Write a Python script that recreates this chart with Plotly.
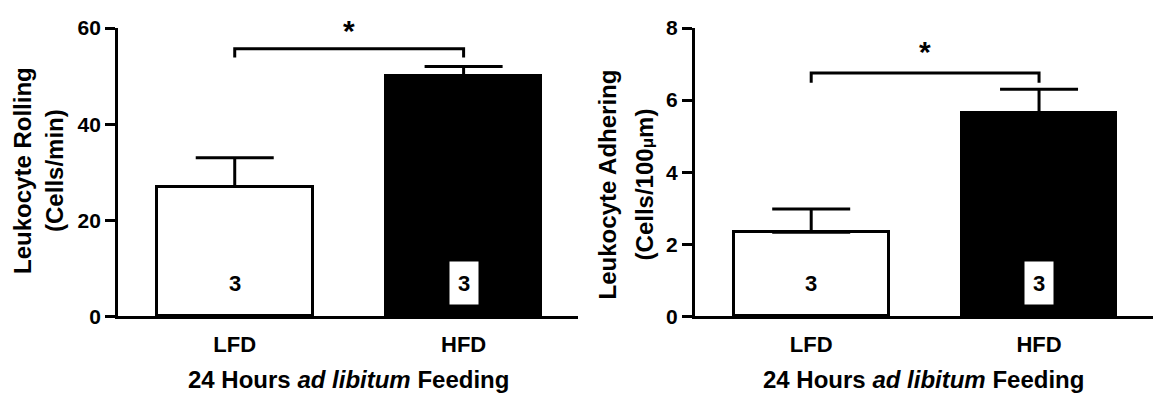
import plotly.graph_objects as go

# Diet groups and summary statistics (mean ± SEM, n per group)
groups = ["LFD", "HFD"]
n_per_group = [3, 3]

rolling_mean = [27, 50]
rolling_sem = [6, 2]

adhering_mean = [2.33, 5.65]
adhering_sem = [0.65, 0.65]

rolling_ticks = [0, 20, 40, 60]
adhering_ticks = [0, 2, 4, 6, 8]

# height of the significance bracket over each panel
bracket_level = [55.7, 6.75]
bracket_drop = [1.8, 0.27]
star_level = [59.4, 7.35]

x_title = "24 Hours <i>ad libitum</i> Feeding"
font_family = "Liberation Sans, Arial, Helvetica, sans-serif"

positions = list(range(len(groups)))
fill_colors = ["white", "black"]

fig = go.Figure()

panels = [
    ("x", "y", rolling_mean, rolling_sem),
    ("x2", "y2", adhering_mean, adhering_sem),
]
for xa, ya, means, sems in panels:
    fig.add_trace(go.Bar(
        x=positions, y=means, xaxis=xa, yaxis=ya, width=0.68,
        marker=dict(color=fill_colors, line=dict(color="black", width=3)),
        error_y=dict(type="data", symmetric=False, array=sems,
                     arrayminus=[0] * len(sems), color="black",
                     thickness=3, width=39),
        showlegend=False, hoverinfo="skip",
    ))

axis_common = dict(showline=True, linecolor="black", linewidth=3,
                   showgrid=False, zeroline=False)
xaxis_common = dict(axis_common, range=[-0.51, 1.5], tickvals=positions,
                    ticktext=groups, ticks="", ticklabelstandoff=6,
                    tickfont=dict(family=font_family, size=22, color="black",
                                  weight="bold"))
yaxis_common = dict(axis_common, ticks="outside", ticklen=10, tickwidth=3,
                    tickcolor="black",
                    tickfont=dict(family=font_family, size=21, color="black",
                                  weight="bold"))

domain_left = [0.102, 0.4996]
domain_right = [0.6007, 0.9965]

fig.update_layout(
    width=1157, height=397,
    margin=dict(l=0, r=0, t=0, b=0),
    paper_bgcolor="white", plot_bgcolor="white",
    bargap=0,
    xaxis=dict(xaxis_common, domain=domain_left, anchor="y"),
    yaxis=dict(yaxis_common, domain=[0.1864, 0.957], range=[0, 60],
               tickvals=rolling_ticks, anchor="x"),
    xaxis2=dict(xaxis_common, domain=domain_right, anchor="y2"),
    yaxis2=dict(yaxis_common, domain=[0.1864, 0.957], range=[0, 8],
                tickvals=adhering_ticks, anchor="x2"),
)

bold = dict(family=font_family, color="black", weight="bold")
annotations = []

# significance brackets and stars
for i, (xr, yr) in enumerate([("x", "y"), ("x2", "y2")]):
    top = bracket_level[i]
    low = top - bracket_drop[i]
    fig.add_shape(type="path", xref=xr, yref=yr,
                  path=f"M {positions[0]},{low} L {positions[0]},{top} "
                       f"L {positions[1]},{top} L {positions[1]},{low}",
                  line=dict(color="black", width=3))
    annotations.append(dict(xref=xr, yref=yr, x=sum(positions) / 2,
                            y=star_level[i], text="*", showarrow=False,
                            font=dict(bold, size=30), xanchor="center",
                            yanchor="middle"))
    # group sizes inside the bars
    for p, n, fc in zip(positions, n_per_group, fill_colors):
        box = dict(bgcolor="white", width=26, height=40, borderpad=1) \
            if fc == "black" else {}
        annotations.append(dict(xref=xr, yref=f"{yr} domain", x=p, y=0.114,
                                text=str(n), showarrow=False,
                                font=dict(bold, size=22), xanchor="center",
                                yanchor="middle", **box))

# x-axis titles, centred under each panel
for dom in [domain_left, domain_right]:
    annotations.append(dict(xref="paper", yref="paper", x=sum(dom) / 2,
                            y=0.018, text=x_title, showarrow=False,
                            font=dict(bold, size=24), xanchor="center",
                            yanchor="middle"))

# y-axis titles (two lines each)
ytitles = [
    (23, 55, 0.575, "Leukocyte Rolling", "(Cells/min)"),
    (607, 644, 0.539, "Leukocyte Adhering",
     "(Cells/100<span style='font-size:17px'>μ</span>m)"),
]
for x1, x2, yc, line1, line2 in ytitles:
    for px, txt in [(x1, line1), (x2, line2)]:
        annotations.append(dict(xref="paper", yref="paper", x=px / 1157,
                                y=yc, text=txt, textangle=-90,
                                showarrow=False, font=dict(bold, size=24),
                                xanchor="center", yanchor="middle"))

fig.update_layout(annotations=annotations)
fig.write_html("out.html")
